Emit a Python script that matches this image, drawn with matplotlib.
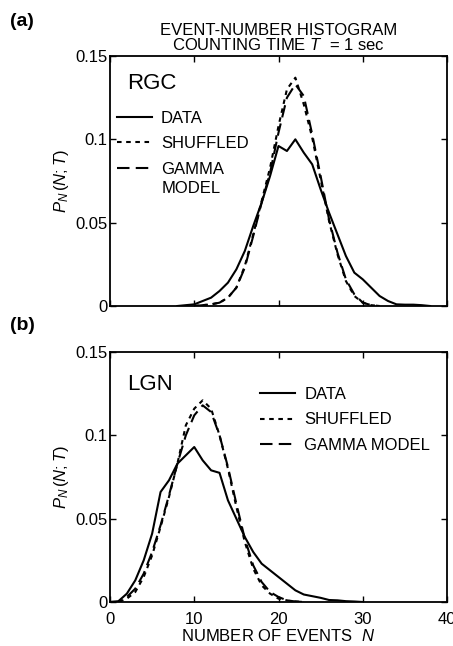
import matplotlib
matplotlib.use('Agg')
import matplotlib.pyplot as plt
import numpy as np

plt.rcParams['font.family'] = ['Liberation Sans', 'DejaVu Sans']
plt.rcParams['mathtext.fontset'] = 'custom'
plt.rcParams['mathtext.it'] = 'Liberation Sans:italic'
plt.rcParams['mathtext.rm'] = 'Liberation Sans'

# RGC (panel a)
rgc_n = np.arange(8, 39)
rgc_data = [0, 0.0005, 0.001, 0.003, 0.005, 0.009, 0.014, 0.022, 0.033, 0.048,
            0.062, 0.078, 0.096, 0.093, 0.1, 0.092, 0.085, 0.07, 0.056, 0.043,
            0.03, 0.02, 0.016, 0.011, 0.006, 0.003, 0.001, 0.0008, 0.0008, 0.0005, 0]
rgc_shuf_n = np.arange(10, 33)
rgc_shuf = [0, 0.0005, 0.001, 0.002, 0.005, 0.011, 0.024, 0.043, 0.063, 0.083,
            0.108, 0.13, 0.137, 0.121, 0.101, 0.076, 0.051, 0.031, 0.015, 0.006,
            0.002, 0.0005, 0]
rgc_gamma = [0, 0.0005, 0.001, 0.002, 0.005, 0.011, 0.023, 0.042, 0.062, 0.08,
             0.104, 0.125, 0.133, 0.126, 0.103, 0.078, 0.052, 0.032, 0.016, 0.007,
             0.002, 0.0005, 0]

# LGN (panel b)
lgn_n = np.arange(0, 31)
lgn_data = [0, 0.0005, 0.005, 0.013, 0.025, 0.041, 0.066, 0.073, 0.083, 0.088,
            0.093, 0.085, 0.079, 0.0775, 0.061, 0.05, 0.039, 0.03, 0.023, 0.019,
            0.015, 0.011, 0.007, 0.0045, 0.0035, 0.0025, 0.0012, 0.001, 0.0005, 0.0003, 0]
lgn_shuf_n = np.arange(0, 24)
lgn_shuf = [0, 0, 0.002, 0.006, 0.015, 0.028, 0.045, 0.063, 0.083, 0.106,
            0.116, 0.121, 0.116, 0.1, 0.08, 0.057, 0.036, 0.02, 0.01, 0.005,
            0.002, 0.001, 0.0003, 0]
lgn_gamma = [0, 0, 0.003, 0.008, 0.017, 0.03, 0.046, 0.064, 0.083, 0.1,
             0.112, 0.118, 0.114, 0.1, 0.081, 0.059, 0.038, 0.022, 0.012, 0.006,
             0.003, 0.001, 0.0003, 0]

W, H = 453, 646
fs = 12
fig = plt.figure(figsize=(W / 100, H / 100), dpi=100)
ax1 = fig.add_axes([110 / W, 1 - 306 / H, 337 / W, 250 / H])
ax2 = fig.add_axes([110 / W, 1 - 602 / H, 337 / W, 250 / H])

lw = 1.5
for ax in (ax1, ax2):
    ax.set_xlim(0, 40)
    ax.set_ylim(0, 0.15)
    ax.set_xticks([0, 10, 20, 30, 40])
    ax.set_yticks([0, 0.05, 0.1, 0.15])
    ax.set_yticklabels(['0', '0.05', '0.1', '0.15'])
    ax.tick_params(direction='in', top=True, right=True, length=4, width=1,
                   labelsize=fs, pad=2)
    ax.tick_params(axis='x', pad=7)
    for s in ax.spines.values():
        s.set_linewidth(1.3)
    ax.set_ylabel(r'$P_N\,(N;T)$', fontsize=fs, labelpad=3)

ax1.tick_params(labelbottom=False)

legkw = dict(loc='upper left', frameon=False, fontsize=fs, handlelength=2.1,
             handletextpad=0.55, labelspacing=0.62, borderaxespad=0, borderpad=0)

# panel a
l1, = ax1.plot(rgc_n, rgc_data, color='k', lw=lw)
l2, = ax1.plot(rgc_shuf_n, rgc_shuf, color='k', lw=lw, dashes=(2.2, 2.2))
l3, = ax1.plot(rgc_shuf_n, rgc_gamma, color='k', lw=lw, dashes=(6, 3))
ax1.legend([l1, l2, l3], ['DATA', 'SHUFFLED', 'GAMMA'],
           bbox_to_anchor=(0.02, 0.78), **legkw)
ax1.text(0.152, 0.47, 'MODEL', transform=ax1.transAxes, fontsize=fs, va='center')
ax1.text(0.05, 0.89, 'RGC', transform=ax1.transAxes, fontsize=16, va='center')
ax1.set_title('EVENT-NUMBER HISTOGRAM\nCOUNTING TIME $T$  = 1 sec',
              fontsize=fs, linespacing=0.95, pad=4)

# panel b
m1, = ax2.plot(lgn_n, lgn_data, color='k', lw=lw)
m2, = ax2.plot(lgn_shuf_n, lgn_shuf, color='k', lw=lw, dashes=(2.2, 2.2))
m3, = ax2.plot(lgn_shuf_n, lgn_gamma, color='k', lw=lw, dashes=(6, 3))
ax2.legend([m1, m2, m3], ['DATA', 'SHUFFLED', 'GAMMA MODEL'],
           bbox_to_anchor=(0.445, 0.86), **legkw)
ax2.text(0.05, 0.87, 'LGN', transform=ax2.transAxes, fontsize=16, va='center')
ax2.set_xlabel('NUMBER OF EVENTS  $N$', fontsize=fs, labelpad=1)

fig.text(10 / W, 1 - 22 / H, '(a)', fontsize=14, fontweight='bold', va='center')
fig.text(10 / W, 1 - 325 / H, '(b)', fontsize=14, fontweight='bold', va='center')

fig.savefig('out.png', dpi=100)
